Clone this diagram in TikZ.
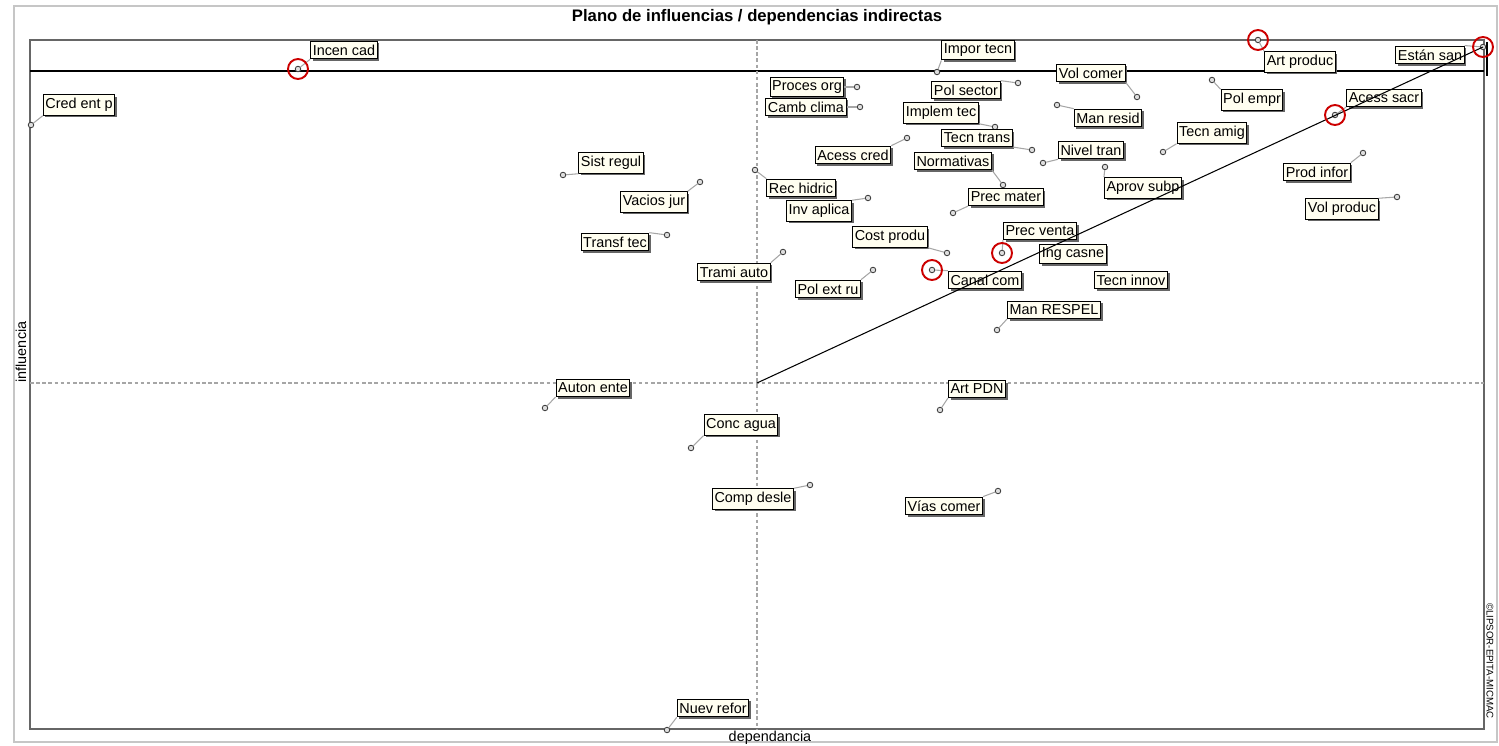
\documentclass[tikz,border=0pt]{standalone}
\usepackage{fontspec}
\setmainfont{Liberation Sans}
\usetikzlibrary{shadows}

\begin{document}
\begin{tikzpicture}[x=0.02cm,y=-0.02cm,
  every node/.style={font=\fontsize{8.2}{9}\selectfont},
  lbl/.style={draw,line width=0.6pt,fill=yellow!6,inner xsep=1.2pt,inner ysep=2pt,
    drop shadow={shadow xshift=1.2pt,shadow yshift=-1.2pt,fill=black!60,opacity=1}},
  pt/.style={circle,draw=black!75,fill=gray!25,line width=0.5pt,inner sep=0pt,minimum size=0.11cm},
  lnk/.style={gray!70,line width=0.6pt},
  hl/.style={circle,draw=red!80!black,line width=1.1pt,inner sep=0pt,minimum size=0.4cm},
  axis/.style={gray!70,line width=0.6pt,dash pattern=on 2pt off 1.5pt},
  frame/.style={gray!80!black,line width=1pt}]

    \useasboundingbox (0,0) rectangle (1499,746);

    % frames
    \draw[gray!45,line width=0.9pt] (14,6) rectangle (1497,742);
    \draw[frame] (30,40) rectangle (1484,729);
    \draw[line width=0.6pt] (30,71) -- (1484,71);
    \draw[line width=0.6pt] (1487,42) -- (1487,76);

    % axes
    \coordinate (ctr) at (757,383);
    \draw[axis] (757,40) -- (757,729);
    \draw[axis] (30,383) -- (1484,383);

    \node[font=\bfseries\fontsize{9.5}{11}\selectfont] (title) at (757,17) {Plano de influencias / dependencias indirectas};
    \node (xlab) at (770,738) {dependancia};
    \node[rotate=90] (ylab) at (21,352) {influencia};
    \node[rotate=-90,font=\fontsize{5.5}{6}\selectfont] (copy) at (1490,661) {©LIPSOR-EPITA-MICMAC};

    % variables
    \node[lbl] (incen) at (344,50) {Incen cad};
    \node[pt] (incenp) at (298,69) {};
    \draw[lnk] (incenp) -- (incen.south west);

    \node[lbl] (cred) at (79,105) {Cred ent p};
    \node[pt] (credp) at (31,125) {};
    \draw[lnk] (credp) -- (cred.south west);

    \node[lbl] (impor) at (978,50) {Impor tecn};
    \node[pt] (imporp) at (937,72) {};
    \draw[lnk] (imporp) -- (impor.south west);

    \node[lbl] (proces) at (807,87) {Proces org};
    \node[pt] (procesp) at (857,87) {};
    \draw[lnk] (procesp) -- (proces.east);

    \node[lbl] (camb) at (806,107) {Camb clima};
    \node[pt] (cambp) at (860,107) {};
    \draw[lnk] (cambp) -- (camb.east);

    \node[lbl] (polsec) at (966,90) {Pol sector};
    \node[pt] (polsecp) at (1018,83) {};
    \draw[lnk] (polsecp) -- (polsec.north east);

    \node[lbl] (implem) at (941,113) {Implem tec};
    \node[pt] (implemp) at (995,127) {};
    \draw[lnk] (implemp) -- (implem.south east);

    \node[lbl] (tecntr) at (977,138) {Tecn trans};
    \node[pt] (tecntrp) at (1032,150) {};
    \draw[lnk] (tecntrp) -- (tecntr.south east);

    \node[lbl] (acred) at (853,155) {Acess cred};
    \node[pt] (acredp) at (907,138) {};
    \draw[lnk] (acredp) -- (acred.north east);

    \node[lbl] (norm) at (953,161) {Normativas};
    \node[pt] (normp) at (1003,185) {};
    \draw[lnk] (normp) -- (norm.south east);

    \node[lbl] (volcom) at (1091,73) {Vol comer};
    \node[pt] (volcomp) at (1137,97) {};
    \draw[lnk] (volcomp) -- (volcom.south east);

    \node[lbl] (manres) at (1108,118) {Man resid};
    \node[pt] (manresp) at (1057,105) {};
    \draw[lnk] (manresp) -- (manres.north west);

    \node[lbl] (nivel) at (1091,150) {Nivel tran};
    \node[pt] (nivelp) at (1043,163) {};
    \draw[lnk] (nivelp) -- (nivel.south west);

    \node[lbl] (tecnam) at (1212,133) {Tecn amig};
    \node[pt] (tecnamp) at (1163,152) {};
    \draw[lnk] (tecnamp) -- (tecnam.south west);

    \node[lbl] (artpro) at (1300,62) {Art produc};
    \node[pt] (artprop) at (1258,40) {};
    \draw[lnk] (artprop) -- (artpro.north west);

    \node[lbl] (estan) at (1430,55) {Están san};
    \node[pt] (estanp) at (1483,47) {};
    \draw[lnk] (estanp) -- (estan.north east);

    \node[lbl] (polemp) at (1252,100) {Pol empr};
    \node[pt] (polempp) at (1212,80) {};
    \draw[lnk] (polempp) -- (polemp.north west);

    \node[lbl] (asacr) at (1384,98) {Acess sacr};
    \node[pt] (asacrp) at (1335,115) {};
    \draw[lnk] (asacrp) -- (asacr.south west);

    \node[lbl] (prodinf) at (1317,172) {Prod infor};
    \node[pt] (prodinfp) at (1363,153) {};
    \draw[lnk] (prodinfp) -- (prodinf.north east);

    \node[lbl] (volpro) at (1342,209) {Vol produc};
    \node[pt] (volprop) at (1397,197) {};
    \draw[lnk] (volprop) -- (volpro.north east);

    \node[lbl] (aprov) at (1143,188) {Aprov subp};
    \node[pt] (aprovp) at (1105,167) {};
    \draw[lnk] (aprovp) -- (aprov.north west);

    \node[lbl] (sist) at (611,163) {Sist regul};
    \node[pt] (sistp) at (563,175) {};
    \draw[lnk] (sistp) -- (sist.south west);

    \node[lbl] (vacios) at (654,202) {Vacios jur};
    \node[pt] (viaciosp) at (700,182) {};
    \draw[lnk] (viaciosp) -- (vacios.north east);

    \node[lbl] (rechid) at (801,188) {Rec hidric};
    \node[pt] (rechidp) at (755,170) {};
    \draw[lnk] (rechidp) -- (rechid.north west);

    \node[lbl] (invap) at (819,211) {Inv aplica};
    \node[pt] (invapp) at (868,198) {};
    \draw[lnk] (invapp) -- (invap.north east);

    \node[lbl] (precmat) at (1006,197) {Prec mater};
    \node[pt] (precmatp) at (953,213) {};
    \draw[lnk] (precmatp) -- (precmat.south west);

    \node[lbl] (transf) at (615,242) {Transf tec};
    \node[pt] (transfp) at (667,235) {};
    \draw[lnk] (transfp) -- (transf.north east);

    \node[lbl] (cost) at (890,237) {Cost produ};
    \node[pt] (costp) at (947,253) {};
    \draw[lnk] (costp) -- (cost.south east);

    \node[lbl] (trami) at (734,272) {Trami auto};
    \node[pt] (tramip) at (783,252) {};
    \draw[lnk] (tramip) -- (trami.north east);

    \node[lbl] (polext) at (828,289) {Pol ext ru};
    \node[pt] (polextp) at (873,270) {};
    \draw[lnk] (polextp) -- (polext.north east);

    \node[lbl] (canal) at (985,280) {Canal com};
    \node[pt] (canalp) at (932,270) {};
    \draw[lnk] (canalp) -- (canal.north west);

    \node[lbl] (precven) at (1040,231) {Prec venta};
    \node[pt] (precvenp) at (1002,253) {};
    \draw[lnk] (precvenp) -- (precven.south west);

    \node[lbl] (ingcar) at (1073,254) {Ing casne};

    \node[lbl] (tecninn) at (1131,280) {Tecn innov};

    \node[lbl] (manresp2) at (1054,310) {Man RESPEL};
    \node[pt] (manresp2p) at (997,330) {};
    \draw[lnk] (manresp2p) -- (manresp2.south west);

    \node[lbl] (auton) at (593,388) {Auton ente};
    \node[pt] (autonp) at (545,408) {};
    \draw[lnk] (autonp) -- (auton.south west);

    \node[lbl] (artpdn) at (977,389) {Art PDN};
    \node[pt] (artpdnp) at (940,410) {};
    \draw[lnk] (artpdnp) -- (artpdn.south west);

    \node[lbl] (conc) at (741,425) {Conc agua};
    \node[pt] (concp) at (691,448) {};
    \draw[lnk] (concp) -- (conc.south west);

    \node[lbl] (comp) at (753,499) {Comp desle};
    \node[pt] (compp) at (810,485) {};
    \draw[lnk] (compp) -- (comp.north east);

    \node[lbl] (vias) at (944,506) {Vías comer};
    \node[pt] (viasp) at (998,491) {};
    \draw[lnk] (viasp) -- (vias.north east);

    \node[lbl] (nuev) at (713,708) {Nuev refor};
    \node[pt] (nuevp) at (667,730) {};
    \draw[lnk] (nuevp) -- (nuev.south west);

    % diagonal
    \draw[line width=0.6pt] (ctr) -- (estanp.center);

    % highlighted variables
    \node[hl] at (incenp) {};
    \node[hl] at (artprop) {};
    \node[hl] at (estanp) {};
    \node[hl] at (asacrp) {};
    \node[hl] at (canalp) {};
    \node[hl] at (precvenp) {};
\end{tikzpicture}
\end{document}
